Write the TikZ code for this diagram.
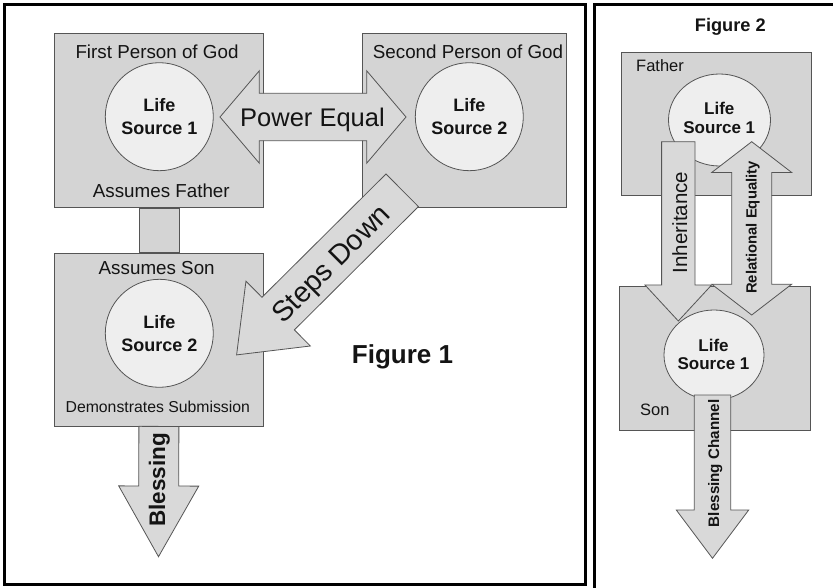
\documentclass[tikz,border=0pt]{standalone}
\usepackage{fontspec}
\setmainfont{Liberation Sans}
\usetikzlibrary{calc,shapes.geometric}

\definecolor{boxfill}{RGB}{212,212,212}
\definecolor{arrowfill}{RGB}{217,217,217}
\definecolor{discfill}{RGB}{238,238,238}
\definecolor{edge}{RGB}{85,85,85}
\definecolor{ink}{RGB}{20,20,20}

% block arrow with one head: style, start, tip, shaft half-width, head half-width, head length
\newcommand\singlearrow[6]{%
  \path ($(#3)!#6!(#2)$) coordinate (sa-h);
  \draw[#1] ($(#2)!#4!90:(#3)$) -- ($(sa-h)!#4!90:(#3)$) -- ($(sa-h)!#5!90:(#3)$)
    -- (#3) -- ($(sa-h)!#5!-90:(#3)$) -- ($(sa-h)!#4!-90:(#3)$)
    -- ($(#2)!#4!-90:(#3)$) -- cycle;}

% block arrow with two heads: style, tip a, tip b, shaft half-width, head half-width, head length
\newcommand\doublearrow[6]{%
  \path ($(#2)!#6!(#3)$) coordinate (da-a) ($(#3)!#6!(#2)$) coordinate (da-b);
  \draw[#1] (#2) -- ($(da-a)!#5!90:(#3)$) -- ($(da-a)!#4!90:(#3)$)
    -- ($(da-b)!#4!90:(#3)$) -- ($(da-b)!#5!90:(#3)$) -- (#3)
    -- ($(da-b)!#5!-90:(#3)$) -- ($(da-b)!#4!-90:(#3)$)
    -- ($(da-a)!#4!-90:(#3)$) -- ($(da-a)!#5!-90:(#3)$) -- cycle;}

\begin{document}
\begin{tikzpicture}[x=1pt,y=-1pt,
  frame/.style={draw=black, line width=3pt},
  panel/.style={draw=edge, fill=boxfill, line width=0.8pt, rectangle, inner sep=0pt},
  disc/.style={draw=edge, fill=discfill, line width=0.8pt, circle, inner sep=0pt,
    minimum size=108pt, align=center, text=ink, font={\bfseries\fontsize{18}{23}\selectfont}},
  oval/.style={draw=edge, fill=discfill, line width=0.8pt, ellipse, inner sep=0pt},
  blockarrow/.style={draw=edge, fill=arrowfill, line width=0.8pt, line join=miter},
  lbl/.style={text=ink, inner sep=0pt, font={\fontsize{18.8}{22}\selectfont}},
  smalllbl/.style={text=ink, inner sep=0pt, font={\fontsize{15.8}{19}\selectfont}},
  arrowlbl/.style={text=ink, inner sep=0pt, font={\fontsize{25.5}{30}\selectfont}},
  title/.style={text=ink, inner sep=0pt, font={\bfseries\fontsize{26}{30}\selectfont}},
  ovaltext/.style={text=ink, inner sep=0pt, align=center, font={\bfseries\fontsize{17}{18.3}\selectfont}},
  sidelbl/.style={text=ink, inner sep=0pt, font={\fontsize{16.5}{19}\selectfont}}]
\useasboundingbox (0,0) rectangle (833,588);
\clip (0,0) rectangle (833,588);

% outer frames
\draw[frame] (4.5,4.5) rectangle (585,584.5);
\draw[frame] (594,600) -- (594,4.5) -- (845,4.5);

% ---------- Figure 1 ----------
\node[panel, minimum width=209pt, minimum height=174pt, anchor=north west] (fp) at (54,33) {};
\node[panel, minimum width=204pt, minimum height=174pt, anchor=north west] (sp) at (362,33) {};
\node[panel, minimum width=40pt, minimum height=44pt, anchor=north] (link) at (fp.south) {};
\node[panel, minimum width=209pt, minimum height=173pt, anchor=north] (as) at (link.south) {};

\node[disc] (ls1) at (159.3,116.7) {Life\\Source 1};
\node[disc] (ls2) at (469.3,116.7) {Life\\Source 2};
\node[disc] (ls3) at (159.3,333.3) {Life\\Source 2};

\coordinate (pe-a) at (220,117);
\coordinate (pe-b) at (406,117);
\doublearrow{blockarrow}{pe-a}{pe-b}{23.7pt}{46.2pt}{39.3pt}

\coordinate (sd-s) at (402.2,190.3);
\coordinate (sd-e) at (236.6,354.9);
\singlearrow{blockarrow}{sd-s}{sd-e}{23pt}{45.7pt}{58.6pt}

\coordinate (bl-e) at (158.5,556.7);
\singlearrow{blockarrow}{as.south}{bl-e}{20pt}{40pt}{70.7pt}

\node[lbl, anchor=base] (fp-t) at (157,58.5) {First Person of God};
\node[lbl, anchor=base] (fp-b) at (161.3,197.3) {Assumes Father};
\node[lbl, anchor=base] (sp-t) at (468,58.3) {Second Person of God};
\node[lbl, anchor=base] (as-t) at (156.7,275) {Assumes Son};
\node[smalllbl, anchor=base] (as-b) at (157.8,412.3) {Demonstrates Submission};
\node[arrowlbl, anchor=base] (pe-t) at (312.5,126.7) {Power Equal};
\node[text=ink, inner sep=0pt, font={\fontsize{28.5}{32}\selectfont},
      anchor=base, rotate=45] (sd-t) at (337.5,270.5) {Steps Down};
\node[text=ink, inner sep=0pt, font={\bfseries\fontsize{22.5}{26}\selectfont},
      anchor=base, rotate=90] (bl-t) at (165,480) {Blessing};
\node[title, anchor=base] (f1) at (402.5,363.3) {Figure 1};

% ---------- Figure 2 ----------
\node[text=ink, inner sep=0pt, font={\bfseries\fontsize{18.2}{21}\selectfont}, anchor=base]
  (f2) at (730.3,31.7) {Figure 2};
\node[panel, minimum width=190pt, minimum height=143pt, anchor=north west] (fb) at (621,52) {};
\node[oval, minimum width=102pt, minimum height=92pt] (fe) at (719.5,120) {};
\node[ovaltext] (fe-t) at (719.3,118) {Life\\Source 1};
\node[sidelbl, anchor=base west] (fb-t) at (636,71.7) {Father};

\node[panel, minimum width=191pt, minimum height=144pt, anchor=north west] (sb) at (619,286) {};

\coordinate (ih-s) at (678.3,141.7);
\coordinate (ih-e) at (678.3,321);
\singlearrow{blockarrow}{ih-s}{ih-e}{16.7pt}{33.3pt}{36pt}

\coordinate (re-a) at (751.7,141.7);
\coordinate (re-b) at (751.7,315);
\doublearrow{blockarrow}{re-a}{re-b}{20pt}{40pt}{30.8pt}

\node[oval, minimum width=100pt, minimum height=90pt] (se) at (714,355) {};
\node[ovaltext] (se-t) at (713.5,354.6) {Life\\Source 1};
\node[sidelbl, anchor=base west] (sb-t) at (640,415) {Son};

\coordinate (bc-s) at (712.5,395);
\coordinate (bc-e) at (712.5,558.3);
\singlearrow{blockarrow}{bc-s}{bc-e}{18.2pt}{36.2pt}{48.3pt}

\node[text=ink, inner sep=0pt, font={\fontsize{20.5}{24}\selectfont}, anchor=base, rotate=90]
  (ih-t) at (687,222.5) {Inheritance};
\node[text=ink, inner sep=0pt, font={\bfseries\fontsize{14.8}{17}\selectfont}, anchor=base, rotate=90]
  (re-t) at (756.7,227.5) {Relational Equality};
\node[text=ink, inner sep=0pt, font={\bfseries\fontsize{15.2}{17}\selectfont}, anchor=base, rotate=90]
  (bc-t) at (719,463.3) {Blessing Channel};
\end{tikzpicture}
\end{document}
